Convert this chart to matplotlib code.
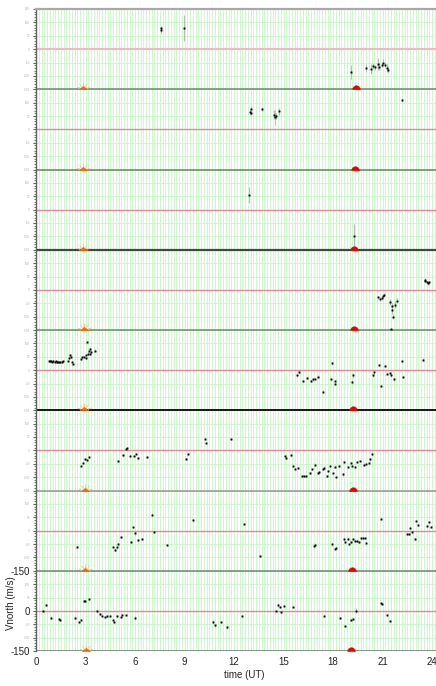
import matplotlib
matplotlib.use("Agg")
import matplotlib.pyplot as plt
from matplotlib.path import Path
import numpy as np

plt.rcParams["font.family"] = ["Liberation Sans", "DejaVu Sans"]

# ---- observations: (time UT [h], Vnorth [m/s], error [m/s]), one list per day, top to bottom
DAY1 = [(7.55, 72, 12), (7.6, 78, 8), (8.97, 79, 50),
        (19.1, -86, 25), (19.98, -71, 15), (20.3, -75, 18), (20.4, -62, 12),
        (20.55, -68, 10), (20.7, -55, 22), (20.8, -65, 12), (20.95, -60, 8),
        (21.05, -50, 12), (21.15, -58, 10), (21.25, -70, 15), (21.35, -78, 12)]
DAY2 = [(12.95, 65, 10), (13.0, 75, 12), (13.05, 60, 8), (13.68, 76, 6),
        (14.45, 55, 18), (14.5, 45, 28), (14.55, 50, 10), (14.7, 67, 12),
        (22.16, 109, 8)]
DAY3 = [(12.89, 56, 30), (19.27, -99, 45)]
DAY4 = [(20.75, -28, 6), (20.85, -35, 8), (20.95, -30, 6), (21.05, -22, 6),
        (21.1, -18, 5), (21.45, -45, 10), (21.5, -148, 3), (21.55, -60, 12),
        (21.6, -75, 15), (21.65, -100, 10), (21.75, -55, 12), (21.85, -40, 10),
        (23.55, 38, 5), (23.6, 33, 5), (23.7, 30, 5), (23.75, 25, 5), (23.8, 28, 5)]
DAY5 = [(0.78, 35, 3), (0.85, 33, 3), (0.92, 35, 3), (0.99, 32, 3), (1.06, 34, 3),
        (1.13, 31, 3), (1.2, 33, 3), (1.27, 30, 3), (1.34, 32, 3), (1.41, 29, 3),
        (1.48, 31, 3), (1.55, 30, 3), (1.62, 33, 3), (1.96, 35, 4), (2.02, 45, 4),
        (2.08, 58, 4), (2.14, 50, 4), (2.2, 30, 4), (2.25, 22, 4),
        (2.75, 42, 4), (2.8, 48, 4), (2.9, 50, 4), (3.0, 46, 4), (3.05, 55, 4),
        (3.11, 104, 5), (3.15, 62, 4), (3.2, 70, 4), (3.25, 60, 4), (3.3, 80, 5),
        (3.35, 66, 4), (3.58, 73, 6),
        (15.84, -19, 5), (15.92, -8, 5), (16.18, -40, 4), (16.44, -31, 4),
        (16.64, -40, 4), (16.78, -35, 4), (16.92, -32, 4), (17.08, -24, 4),
        (17.37, -81, 5), (17.86, -35, 4), (17.96, 25, 4), (18.14, -52, 5),
        (18.14, -40, 4), (19.13, -44, 6), (19.21, -20, 8), (20.42, -19, 5),
        (20.48, -8, 5), (20.77, 19, 4), (20.89, -59, 5), (21.15, 16, 4),
        (21.27, -15, 4), (21.47, -11, 4), (21.53, -20, 4), (21.7, -35, 5),
        (22.18, 33, 5), (22.26, -26, 5), (23.45, 39, 5)]
DAY6 = [(2.71, -59, 4), (2.87, -46, 4), (2.97, -31, 4), (3.11, -36, 4), (3.23, -24, 4),
        (4.99, -40, 4), (5.25, -19, 4), (5.45, 6, 4), (5.53, 10, 4), (5.69, -21, 4),
        (5.93, -21, 4), (6.05, -15, 4), (6.2, -28, 4), (6.71, -25, 4),
        (9.07, -31, 4), (9.23, -12, 4), (10.24, 41, 4), (10.3, 29, 4), (11.84, 41, 4),
        (15.07, -21, 4), (15.17, -29, 4), (15.43, -19, 4), (15.58, -59, 4),
        (15.72, -71, 4), (15.88, -65, 4), (16.12, -96, 3), (16.24, -96, 3),
        (16.38, -96, 3), (16.58, -84, 4), (16.72, -71, 4), (16.88, -53, 5),
        (17.08, -84, 4), (17.18, -81, 4), (17.38, -71, 4), (17.48, -65, 4),
        (17.64, -96, 4), (17.68, -78, 4), (17.84, -59, 4), (17.98, -84, 4),
        (18.12, -61, 4), (18.18, -99, 4), (18.38, -59, 4), (18.62, -90, 4),
        (18.68, -44, 4), (18.88, -61, 4), (19.08, -46, 4), (19.18, -59, 4),
        (19.32, -61, 4), (19.48, -43, 4), (19.64, -40, 4), (19.88, -53, 4),
        (19.98, -50, 4), (20.18, -46, 4), (20.24, -34, 4), (20.38, -15, 4)]
DAY7 = [(2.46, -61, 5), (4.69, -61, 5), (4.79, -71, 5), (4.89, -62, 5), (4.99, -50, 5),
        (5.15, -24, 4), (5.76, -44, 4), (5.9, 12, 4), (6.0, -9, 6), (6.2, -36, 4),
        (6.44, -31, 4), (7.05, 60, 5), (7.17, -5, 5), (7.96, -54, 4), (9.49, 39, 5),
        (12.61, 25, 4), (13.56, -94, 3), (16.85, -59, 5), (16.93, -53, 5),
        (17.96, -50, 4), (18.1, -69, 4), (18.2, -65, 4), (18.65, -31, 4),
        (18.71, -44, 4), (18.91, -30, 4), (18.97, -50, 4), (19.11, -44, 4),
        (19.21, -31, 4), (19.31, -40, 4), (19.47, -38, 4), (19.57, -44, 4),
        (19.67, -28, 4), (19.81, -26, 4), (19.91, -28, 4), (19.97, -46, 4),
        (20.91, 44, 4), (22.5, -12, 3), (22.58, -12, 3), (22.68, 10, 4),
        (22.78, -6, 4), (22.94, -31, 4), (23.04, 35, 4), (23.18, 22, 4),
        (23.71, 16, 4), (23.79, 31, 4), (23.95, 12, 4)]
DAY8 = [(0.4, -2, 4), (0.59, 22, 4), (0.91, -25, 6), (1.42, -31, 4), (1.46, -35, 4),
        (2.36, -28, 4), (2.62, -40, 4), (2.71, -35, 4), (2.91, 38, 4), (2.99, 36, 4),
        (3.23, 44, 5), (3.7, 0, 4), (3.88, -11, 4), (3.98, -18, 4), (4.18, -24, 4),
        (4.33, -18, 4), (4.49, -18, 4), (4.65, -35, 4), (4.75, -40, 4), (4.89, -18, 4),
        (5.15, -24, 4), (5.23, -14, 4), (5.45, -16, 4), (6.0, -26, 5),
        (10.75, -40, 5), (10.85, -54, 5), (11.23, -40, 4), (11.58, -62, 4),
        (12.5, -18, 4), (14.56, 1, 4), (14.66, 21, 5), (14.8, 14, 5), (14.86, -4, 4),
        (15.06, 18, 5), (15.6, 14, 5), (17.45, -20, 4), (18.4, -26, 4),
        (18.71, -55, 4), (19.11, -33, 4), (19.21, -29, 4), (19.37, 1, 8),
        (20.93, 30, 4), (20.99, 26, 4), (21.25, -14, 4), (21.43, -38, 4)]
DAYS = [DAY1, DAY2, DAY3, DAY4, DAY5, DAY6, DAY7, DAY8]

SUNRISE = [2.83, 2.83, 2.85, 2.89, 2.93, 2.95, 2.99, 3.01]
SUNSET = [19.39, 19.33, 19.29, 19.25, 19.23, 19.19, 19.13, 19.11]

X_TICKS = [0, 3, 6, 9, 12, 15, 18, 21, 24]
BIG_Y_LABELS = [-150, 0, 150]

# ---- layout
N = len(DAYS)
SPAN = 300
HALF = SPAN // 2

fig = plt.figure(figsize=(4.36, 6.86), dpi=100)
ax = fig.add_axes([36 / 436, 35 / 686, 400 / 436, 642 / 686])
ax.set_xlim(0, 400 / 16.5)
ax.set_ylim(-HALF, -HALF + N * SPAN)

GRID = "#c6f5c6"
ax.set_xticks(X_TICKS)
ax.set_xticklabels([str(v) for v in X_TICKS])
ax.set_xticks(np.arange(0, 24.25, 1 / 6), minor=True)
ax.grid(which="both", axis="x", color=GRID, lw=0.6, zorder=0)
ax.tick_params(axis="x", which="both", length=0, pad=4, labelsize=7, labelcolor="#222222")

yt = np.arange(-HALF, -HALF + N * SPAN + 1, 50)
ax.set_yticks(yt)
labels = []
for p in yt:
    local = ((p + HALF) % SPAN) - HALF
    if p == -HALF + N * SPAN:
        local = HALF
    labels.append(str(local))
ax.set_yticklabels(labels)
for p, lab in zip(yt, ax.get_yticklabels()):
    if p in BIG_Y_LABELS:
        lab.set_fontsize(7)
        lab.set_color("#222222")
    else:
        lab.set_fontsize(2.2)
        lab.set_color("#b0b0b0")
ax.set_yticks(np.arange(-HALF, -HALF + N * SPAN + 1, 10), minor=True)
ax.tick_params(axis="y", which="major", length=2.5, width=0.8, color="#606060", pad=2)
ax.tick_params(axis="y", which="minor", length=1.8, width=0.6, color="#606060")
ax.grid(which="major", axis="y", color=GRID, lw=0.6, zorder=0)

for s in ["right", "bottom"]:
    ax.spines[s].set_visible(False)
ax.spines["top"].set_color("#a8a8a8")
ax.spines["top"].set_linewidth(1.6)
ax.spines["left"].set_color("#606060")
ax.spines["left"].set_linewidth(1.0)

# panel separators (bottom to top) and zero lines
SEP_COLORS = ["#6f876f", "#6a886a", "#959595", "#151515", "#6a886a",
              "#3c4c3c", "#6a8262", "#6a886a"]
SEP_WIDTHS = [1.2, 1.1, 1.1, 1.4, 1.1, 1.6, 1.1, 1.1]
for k in range(N):
    ax.axhline(-HALF + k * SPAN, color=SEP_COLORS[k], lw=SEP_WIDTHS[k], zorder=2)
for k in range(N):
    top = (k == N - 1)
    ax.axhline(k * SPAN, color="#f2b8c2" if top else "#e2889a",
               lw=1.6 if top else 1.0, zorder=2)

# measurements
for i, day in enumerate(DAYS):
    off = (N - 1 - i) * SPAN
    t = [d[0] for d in day]
    v = [d[1] + off for d in day]
    e = [d[2] for d in day]
    ax.errorbar(t, v, yerr=e, fmt="s", ms=1.1, mfc="black", mec="black", mew=0.2,
                ecolor="#b8b8b8", elinewidth=0.7, capsize=0, zorder=5)

# sunrise / sunset symbols on each panel's base line
tri_verts = [(-1.0, -0.05), (1.0, -0.05), (0.0, 0.8), (-1.0, -0.05)]
half_disc = [(np.cos(a), np.sin(a)) for a in np.linspace(0, np.pi, 25)]
half_disc = [(-1.0, -0.05), (1.0, -0.05)] + half_disc[1:]
rays = []
codes = []
for ang in [20, 55, 90, 125, 160]:
    a = np.deg2rad(ang)
    rays += [(0.5 * np.cos(a), 0.5 * np.sin(a)), (np.cos(a), np.sin(a))]
    codes += [Path.MOVETO, Path.LINETO]
rays += [(-1, -0.3), (1, -0.3)]
codes += [Path.MOVETO, Path.MOVETO]
ray_path = Path(rays, codes)
for i in range(N):
    base = -HALF + (N - 1 - i) * SPAN
    ax.plot([SUNRISE[i]], [base], marker=ray_path, ms=10, mec="#ffc49a",
            mew=0.8, ls="none", zorder=6, clip_on=False)
    ax.plot([SUNRISE[i]], [base], marker=tri_verts, ms=6, mfc="#f06a0a",
            mec="#f06a0a", mew=0.3, ls="none", zorder=7, clip_on=False)
    ax.plot([SUNSET[i]], [base], marker=half_disc, ms=5.5, mfc="#ee0000",
            mec="#ee0000", mew=0.3, ls="none", zorder=7, clip_on=False)

ax.set_xlabel("time (UT)", fontsize=7, color="#222222")
ax.xaxis.set_label_coords(0.52, -0.03)
ax.set_ylabel("Vnorth (m/s)", fontsize=7, color="#222222")
ax.yaxis.set_label_coords(-0.05, 0.075)

fig.savefig("out.png", dpi=100)
